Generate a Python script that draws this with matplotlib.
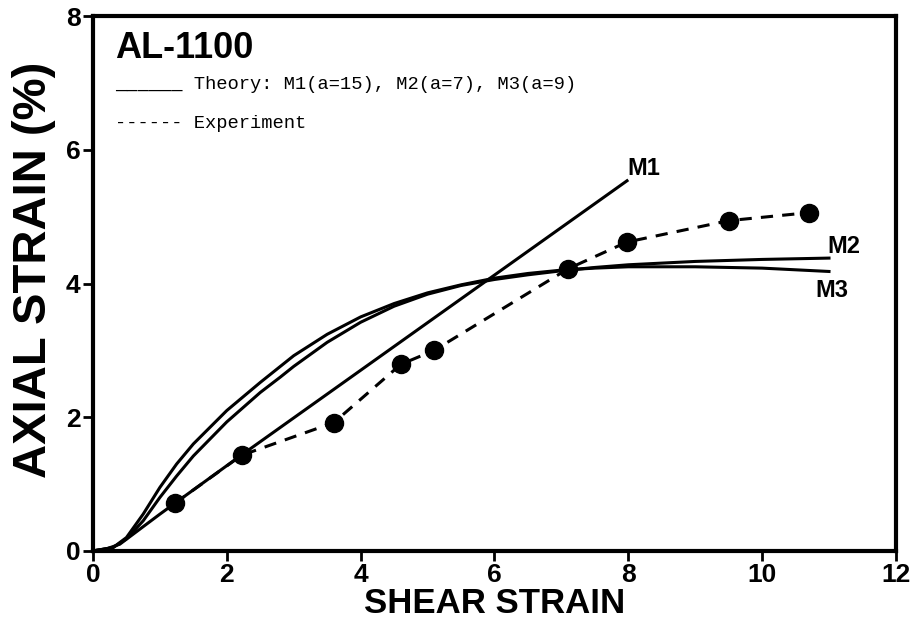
import matplotlib
matplotlib.use("Agg")
import matplotlib.pyplot as plt

# --- data ---
m1_x = [0.0, 0.2, 0.4, 0.6, 1.0, 2.2, 8.0]
m1_y = [0.0, 0.03, 0.1, 0.25, 0.55, 1.42, 5.55]

m2_x = [0.0, 0.3, 0.5, 0.75, 1.0, 1.25, 1.5, 2.0, 2.5, 2.8, 3.0, 3.5, 4.0, 4.5, 5.0, 5.5, 6.0, 6.5, 7.0, 7.5, 8.0, 9.0, 10.0, 11.0]
m2_y = [0.0, 0.05, 0.18, 0.45, 0.8, 1.12, 1.42, 1.93, 2.37, 2.6, 2.76, 3.12, 3.42, 3.66, 3.84, 3.97, 4.06, 4.13, 4.19, 4.24, 4.28, 4.33, 4.36, 4.38]

m3_x = [0.0, 0.3, 0.5, 0.75, 1.0, 1.25, 1.5, 2.0, 2.5, 3.0, 3.5, 4.0, 4.5, 5.0, 5.5, 6.0, 6.5, 7.0, 7.5, 8.0, 9.0, 10.0, 11.0]
m3_y = [0.0, 0.05, 0.2, 0.55, 0.95, 1.3, 1.6, 2.1, 2.52, 2.92, 3.24, 3.5, 3.7, 3.86, 3.98, 4.08, 4.15, 4.2, 4.23, 4.25, 4.25, 4.23, 4.18]

exp_x = [1.22, 2.22, 3.6, 4.6, 5.1, 7.1, 7.98, 9.5, 10.7]
exp_y = [0.71, 1.43, 1.92, 2.79, 3.0, 4.22, 4.62, 4.94, 5.06]

x_ticks = [0, 2, 4, 6, 8, 10, 12]
y_ticks = [0, 2, 4, 6, 8]

fig = plt.figure(figsize=(9.17, 6.19), dpi=100)
ax = fig.add_axes([0.1014, 0.110, 0.8756, 0.864])

lw = 2.2
ax.plot(m1_x, m1_y, color="black", lw=lw, solid_capstyle="butt")
ax.plot(m2_x, m2_y, color="black", lw=lw)
ax.plot(m3_x, m3_y, color="black", lw=lw)
ax.plot(exp_x, exp_y, color="black", lw=lw, linestyle=(0, (4, 3)),
        marker="o", markersize=13)

ax.set_xlim(0, 12)
ax.set_ylim(0, 8)
ax.set_xticks(x_ticks)
ax.set_yticks(y_ticks)
ax.set_xticklabels([str(t) for t in x_ticks])
ax.set_yticklabels([str(t) for t in y_ticks])
for s in ax.spines.values():
    s.set_linewidth(3)
ax.tick_params(direction="out", length=7, width=2, labelsize=19, pad=2)
for lab in ax.get_xticklabels() + ax.get_yticklabels():
    lab.set_fontweight("bold")
    lab.set_family("Liberation Sans")

ax.set_xlabel("SHEAR STRAIN", fontsize=25, fontweight="bold",
              family="Liberation Sans", labelpad=0)
ax.set_ylabel("AXIAL STRAIN (%)", fontsize=34, fontweight="bold",
              family="Liberation Sans")
ax.yaxis.set_label_coords(-0.046, 0.525)

ax.text(0.33, 7.52, "AL-1100", fontsize=26, fontweight="bold",
        family="Liberation Sans", va="center", ha="left")
ax.text(0.33, 6.98, "______ Theory: M1(a=15), M2(a=7), M3(a=9)", fontsize=13.5,
        family="Liberation Mono", va="center", ha="left")
ax.text(0.33, 6.4, "------ Experiment", fontsize=13.5,
        family="Liberation Mono", va="center", ha="left")

ax.text(7.98, 5.72, "M1", fontsize=17, fontweight="bold", family="Liberation Sans",
        va="center", ha="left")
ax.text(10.98, 4.55, "M2", fontsize=17, fontweight="bold", family="Liberation Sans",
        va="center", ha="left")
ax.text(10.8, 3.9, "M3", fontsize=17, fontweight="bold", family="Liberation Sans",
        va="center", ha="left")

fig.savefig("out.png", dpi=100)
